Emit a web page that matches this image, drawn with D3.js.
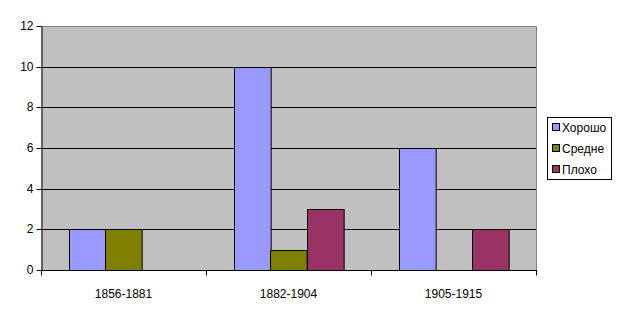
<!DOCTYPE html>
<html><head><meta charset="utf-8">
<script src="https://cdn.jsdelivr.net/npm/d3@7"></script>
<style>body{margin:0;background:#fff}svg{display:block;font-family:Arial,"Liberation Sans",sans-serif}</style>
</head><body><svg id="c" width="623" height="317"></svg>
<script>
const categories = ["1856-1881", "1882-1904", "1905-1915"];
const seriesNames = ["Хорошо", "Средне", "Плохо"];
const good = [2, 10, 6];
const medium = [2, 1, 0];
const bad = [0, 3, 2];
const yTicks = [0, 2, 4, 6, 8, 10, 12];
const colors = ["#9999FF", "#808000", "#993366"];
const series = [good, medium, bad];

const svg = d3.select("#c");
const L = 41, R = 536, T = 26, B = 270;
const x = d3.scaleBand().domain(categories).range([L, R]).paddingInner(0).paddingOuter(0);
const xs = d3.scaleBand().domain(seriesNames).range([0, x.bandwidth()]).paddingInner(0).paddingOuter(0.75);
const y = d3.scaleLinear().domain([0, 12]).range([B, T]);

svg.append("rect").attr("x", L).attr("y", T).attr("width", R - L).attr("height", B - T).attr("fill", "#C0C0C0");
// gridlines
svg.append("g").selectAll("line").data(yTicks.filter(d => d > 0 && d < 12)).join("line")
  .attr("x1", L).attr("x2", R).attr("y1", d => Math.round(y(d)) + 0.5).attr("y2", d => Math.round(y(d)) + 0.5)
  .attr("stroke", "#000").attr("stroke-width", 1);
// plot border top/right
svg.append("path").attr("d", `M${L},${T+0.5}H${R+0.5}V${B}`).attr("fill", "none").attr("stroke", "#808080");

// bars
const data = [];
categories.forEach((c, i) => seriesNames.forEach((s, j) => data.push({c, s, v: series[j][i], col: colors[j]})));
svg.append("g").selectAll("rect").data(data.filter(d => d.v > 0)).join("rect")
  .attr("x", d => Math.round(x(d.c) + xs(d.s)) + 0.5)
  .attr("width", xs.bandwidth())
  .attr("y", d => Math.round(y(d.v)) + 0.5)
  .attr("height", d => y(0) - Math.round(y(d.v)))
  .attr("fill", d => d.col).attr("stroke", "#000").attr("stroke-width", 1);

// axes
const yAxis = d3.axisLeft(y).tickValues(yTicks).tickSize(5).tickPadding(3).tickSizeOuter(0);
const gy = svg.append("g").attr("transform", `translate(${L + 0.5},0)`).call(yAxis);
gy.selectAll("text").attr("font-size", 12).attr("fill", "#000").attr("font-family", "Arial,'Liberation Sans',sans-serif");
gy.selectAll("line").attr("stroke", "#000");
gy.select(".domain").attr("stroke", "#000");
gy.selectAll(".tick").attr("transform", d => `translate(0,${Math.round(y(d)) + 0.5})`);

const gx = svg.append("g").attr("transform", `translate(0,${B + 0.5})`);
gx.append("line").attr("x1", L).attr("x2", R + 1).attr("stroke", "#000");
const bounds = d3.range(categories.length + 1).map(i => i === categories.length ? R : x(categories[i]));
gx.selectAll("line.t").data(bounds).join("line").attr("class", "t")
  .attr("x1", d => Math.round(d) + 0.5).attr("x2", d => Math.round(d) + 0.5).attr("y1", 0).attr("y2", 5).attr("stroke", "#000");
gx.selectAll("text").data(categories).join("text")
  .attr("x", d => x(d) + x.bandwidth() / 2).attr("y", 27)
  .attr("text-anchor", "middle").attr("font-size", 12).attr("fill", "#000").text(d => d);

// legend
const lg = svg.append("g");
lg.append("rect").attr("x", 547.5).attr("y", 117.5).attr("width", 64).attr("height", 62).attr("fill", "#fff").attr("stroke", "#000");
seriesNames.forEach((s, i) => {
  const yy = 127 + i * 21;
  lg.append("rect").attr("x", 552.5).attr("y", yy - 3.5).attr("width", 7).attr("height", 7).attr("fill", colors[i]).attr("stroke", "#000");
  lg.append("text").attr("x", 562).attr("y", yy + 4.5).attr("font-size", 12).attr("fill", "#000").text(s);
});
</script></body></html>
